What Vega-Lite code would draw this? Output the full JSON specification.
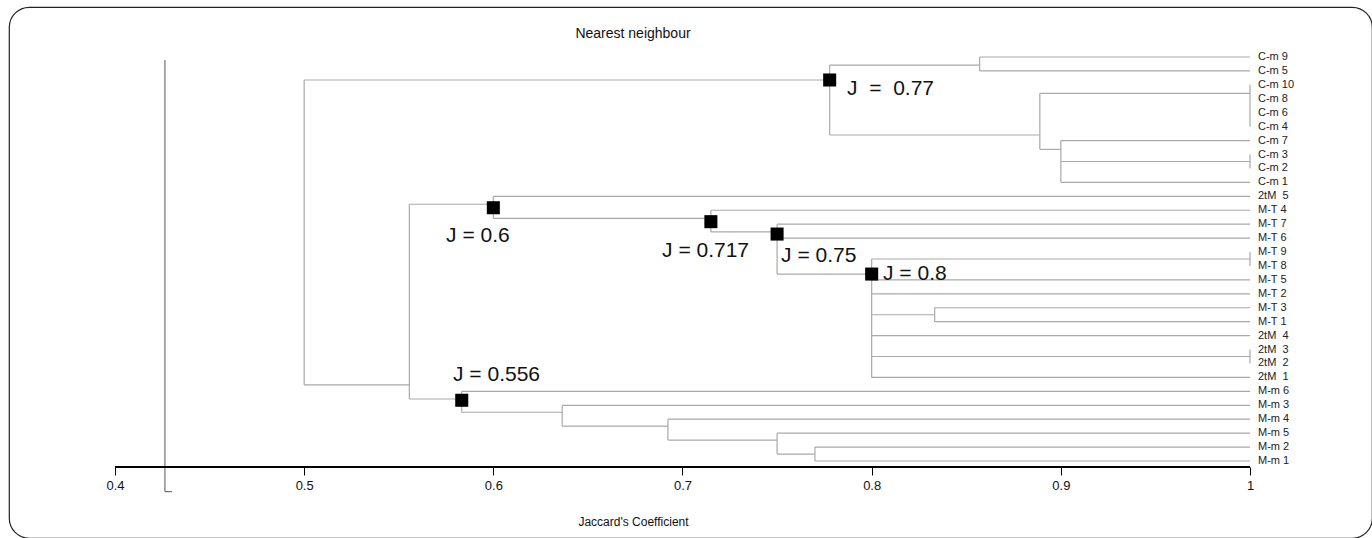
{
  "$schema": "https://vega.github.io/schema/vega-lite/v6.json",
  "width": 1363,
  "height": 531,
  "autosize": "none",
  "padding": {"left": 9, "top": 7, "right": 0, "bottom": 0},
  "background": "white",
  "config": {
    "view": {"stroke": "#222", "strokeWidth": 1.2, "cornerRadius": 20, "fill": "white"},
    "font": "Liberation Sans"
  },
  "title": {
    "text": "Nearest neighbour",
    "anchor": "middle",
    "frame": "group",
    "offset": -41,
    "baseline": "middle",
    "dx": -57.5,
    "fontSize": 14,
    "fontWeight": "normal",
    "font": "Liberation Sans",
    "color": "#111"
  },
  "datasets": {
    "segments": [
      {"x": 0.5, "x2": 0.5, "y": 1.65, "y2": 23.54},
      {"x": 0.5, "x2": 0.7778, "y": 1.65, "y2": 1.65},
      {"x": 0.5, "x2": 0.5556, "y": 23.54, "y2": 23.54},
      {"x": 0.7778, "x2": 0.7778, "y": 0.58, "y2": 5.6},
      {"x": 0.7778, "x2": 0.8571, "y": 0.58, "y2": 0.58},
      {"x": 0.8571, "x2": 0.8571, "y": 0, "y2": 1},
      {"x": 0.8571, "x2": 1, "y": 0, "y2": 0},
      {"x": 0.8571, "x2": 1, "y": 1, "y2": 1},
      {"x": 0.7778, "x2": 0.8889, "y": 5.6, "y2": 5.6},
      {"x": 0.8889, "x2": 0.8889, "y": 2.61, "y2": 6.63},
      {"x": 0.8889, "x2": 1, "y": 2.61, "y2": 2.61},
      {"x": 1, "x2": 1, "y": 2, "y2": 5},
      {"x": 0.8889, "x2": 0.9, "y": 6.63, "y2": 6.63},
      {"x": 0.9, "x2": 0.9, "y": 6, "y2": 9},
      {"x": 0.9, "x2": 1, "y": 6, "y2": 6},
      {"x": 0.9, "x2": 1, "y": 7.5, "y2": 7.5},
      {"x": 0.9, "x2": 1, "y": 9, "y2": 9},
      {"x": 1, "x2": 1, "y": 7, "y2": 8},
      {"x": 0.5556, "x2": 0.5556, "y": 10.57, "y2": 24.55},
      {"x": 0.5556, "x2": 0.6, "y": 10.57, "y2": 10.57},
      {"x": 0.5556, "x2": 0.5833, "y": 24.55, "y2": 24.55},
      {"x": 0.6, "x2": 0.6, "y": 10, "y2": 11.58},
      {"x": 0.6, "x2": 1, "y": 10, "y2": 10},
      {"x": 0.6, "x2": 0.715, "y": 11.58, "y2": 11.58},
      {"x": 0.715, "x2": 0.715, "y": 11, "y2": 12.56},
      {"x": 0.715, "x2": 1, "y": 11, "y2": 11},
      {"x": 0.715, "x2": 0.75, "y": 12.56, "y2": 12.56},
      {"x": 0.75, "x2": 0.75, "y": 12, "y2": 15.58},
      {"x": 0.75, "x2": 1, "y": 12, "y2": 12},
      {"x": 0.75, "x2": 1, "y": 13, "y2": 13},
      {"x": 0.75, "x2": 0.8, "y": 15.58, "y2": 15.58},
      {"x": 0.8, "x2": 0.8, "y": 14.5, "y2": 23},
      {"x": 0.8, "x2": 1, "y": 14.5, "y2": 14.5},
      {"x": 1, "x2": 1, "y": 14, "y2": 15},
      {"x": 0.8, "x2": 1, "y": 16, "y2": 16},
      {"x": 0.8, "x2": 1, "y": 17, "y2": 17},
      {"x": 0.8, "x2": 0.8333, "y": 18.5, "y2": 18.5},
      {"x": 0.8333, "x2": 0.8333, "y": 18, "y2": 19},
      {"x": 0.8333, "x2": 1, "y": 18, "y2": 18},
      {"x": 0.8333, "x2": 1, "y": 19, "y2": 19},
      {"x": 0.8, "x2": 1, "y": 20, "y2": 20},
      {"x": 0.8, "x2": 1, "y": 21.5, "y2": 21.5},
      {"x": 1, "x2": 1, "y": 21, "y2": 22},
      {"x": 0.8, "x2": 1, "y": 23, "y2": 23},
      {"x": 0.5833, "x2": 0.5833, "y": 24, "y2": 25.5},
      {"x": 0.5833, "x2": 1, "y": 24, "y2": 24},
      {"x": 0.5833, "x2": 0.6364, "y": 25.5, "y2": 25.5},
      {"x": 0.6364, "x2": 0.6364, "y": 25, "y2": 26.5},
      {"x": 0.6364, "x2": 1, "y": 25, "y2": 25},
      {"x": 0.6364, "x2": 0.6923, "y": 26.5, "y2": 26.5},
      {"x": 0.6923, "x2": 0.6923, "y": 26, "y2": 27.5},
      {"x": 0.6923, "x2": 1, "y": 26, "y2": 26},
      {"x": 0.6923, "x2": 0.75, "y": 27.5, "y2": 27.5},
      {"x": 0.75, "x2": 0.75, "y": 27, "y2": 28.5},
      {"x": 0.75, "x2": 1, "y": 27, "y2": 27},
      {"x": 0.75, "x2": 0.77, "y": 28.5, "y2": 28.5},
      {"x": 0.77, "x2": 0.77, "y": 28, "y2": 29},
      {"x": 0.77, "x2": 1, "y": 28, "y2": 28},
      {"x": 0.77, "x2": 1, "y": 29, "y2": 29}
    ],
    "leaves": [
      {"label": "C-m 9", "row": 0},
      {"label": "C-m 5", "row": 1},
      {"label": "C-m 10", "row": 2},
      {"label": "C-m 8", "row": 3},
      {"label": "C-m 6", "row": 4},
      {"label": "C-m 4", "row": 5},
      {"label": "C-m 7", "row": 6},
      {"label": "C-m 3", "row": 7},
      {"label": "C-m 2", "row": 8},
      {"label": "C-m 1", "row": 9},
      {"label": "2tM \u00a05", "row": 10},
      {"label": "M-T 4", "row": 11},
      {"label": "M-T 7", "row": 12},
      {"label": "M-T 6", "row": 13},
      {"label": "M-T 9", "row": 14},
      {"label": "M-T 8", "row": 15},
      {"label": "M-T 5", "row": 16},
      {"label": "M-T 2", "row": 17},
      {"label": "M-T 3", "row": 18},
      {"label": "M-T 1", "row": 19},
      {"label": "2tM \u00a04", "row": 20},
      {"label": "2tM \u00a03", "row": 21},
      {"label": "2tM \u00a02", "row": 22},
      {"label": "2tM \u00a01", "row": 23},
      {"label": "M-m 6", "row": 24},
      {"label": "M-m 3", "row": 25},
      {"label": "M-m 4", "row": 26},
      {"label": "M-m 5", "row": 27},
      {"label": "M-m 2", "row": 28},
      {"label": "M-m 1", "row": 29}
    ],
    "nodes": [
      {"x": 0.7778, "y": 1.65},
      {"x": 0.6, "y": 10.82},
      {"x": 0.715, "y": 11.82},
      {"x": 0.75, "y": 12.71},
      {"x": 0.8, "y": 15.58},
      {"x": 0.5833, "y": 24.64}
    ],
    "notes": [
      {"text": "J \u00a0= \u00a00.77", "x": 0.787, "y": 2.3},
      {"text": "J = 0.6", "x": 0.575, "y": 12.85},
      {"text": "J = 0.717", "x": 0.6892, "y": 13.9},
      {"text": "J = 0.75", "x": 0.7521, "y": 14.26},
      {"text": "J = 0.8", "x": 0.806, "y": 15.58},
      {"text": "J = 0.556", "x": 0.5787, "y": 22.83}
    ],
    "bracket": [
      {"x": 0.4264, "x2": 0.4264, "y": 0.215, "y2": 31.2},
      {"x": 0.4264, "x2": 0.4301, "y": 31.2, "y2": 31.2}
    ]
  },
  "layer": [
    {
      "data": {"name": "segments"},
      "mark": {"type": "rule", "color": "#a9a9a9", "strokeWidth": 1.2},
      "encoding": {
        "x": {
          "field": "x",
          "type": "quantitative",
          "scale": {"domain": [0.343965, 1.064494], "nice": false, "zero": false},
          "axis": {
            "values": [0.4, 0.5, 0.6, 0.7, 0.8, 0.9, 1],
            "format": ".1~f",
            "domain": false,
            "grid": false,
            "offset": -71,
            "tickSize": 8,
            "tickColor": "#000",
            "tickWidth": 1,
            "labelFont": "Liberation Sans",
            "labelFontSize": 13,
            "labelColor": "#111",
            "labelPadding": 4,
            "title": "Jaccard's Coefficient",
            "titleFont": "Liberation Sans",
            "titleFontSize": 12,
            "titleFontWeight": "normal",
            "titleColor": "#111",
            "titleX": 624,
            "titleY": 49,
            "titleAlign": "center",
            "titleBaseline": "top",
            "titleAnchor": null
          }
        },
        "x2": {"field": "x2"},
        "y": {
          "field": "y",
          "type": "quantitative",
          "scale": {"domain": [-3.589, 34.527], "reverse": true, "nice": false, "zero": false},
          "axis": null
        },
        "y2": {"field": "y2"}
      }
    },
    {
      "data": {"name": "bracket"},
      "mark": {"type": "rule", "color": "#555", "strokeWidth": 1},
      "encoding": {
        "x": {"field": "x", "type": "quantitative"},
        "x2": {"field": "x2"},
        "y": {"field": "y", "type": "quantitative", "axis": null},
        "y2": {"field": "y2"}
      }
    },
    {
      "data": {"values": [{}]},
      "mark": {"type": "rule", "color": "#000", "strokeWidth": 2},
      "encoding": {
        "x": {"datum": 0.4, "type": "quantitative"},
        "x2": {"datum": 1},
        "y": {"datum": 29.43, "type": "quantitative", "axis": null}
      }
    },
    {
      "data": {"name": "leaves"},
      "mark": {"type": "text", "align": "left", "baseline": "middle", "dx": 8, "fontSize": 11, "color": "#222", "font": "Liberation Sans"},
      "encoding": {
        "x": {"datum": 1, "type": "quantitative"},
        "y": {"field": "row", "type": "quantitative", "axis": null},
        "text": {"field": "label"}
      }
    },
    {
      "data": {"name": "nodes"},
      "mark": {"type": "point", "shape": "square", "filled": true, "color": "#000", "size": 170, "opacity": 1},
      "encoding": {
        "x": {"field": "x", "type": "quantitative"},
        "y": {"field": "y", "type": "quantitative", "axis": null}
      }
    },
    {
      "data": {"name": "notes"},
      "mark": {"type": "text", "align": "left", "baseline": "middle", "fontSize": 21, "color": "#111", "font": "Liberation Sans"},
      "encoding": {
        "x": {"field": "x", "type": "quantitative"},
        "y": {"field": "y", "type": "quantitative", "axis": null},
        "text": {"field": "text"}
      }
    }
  ]
}
